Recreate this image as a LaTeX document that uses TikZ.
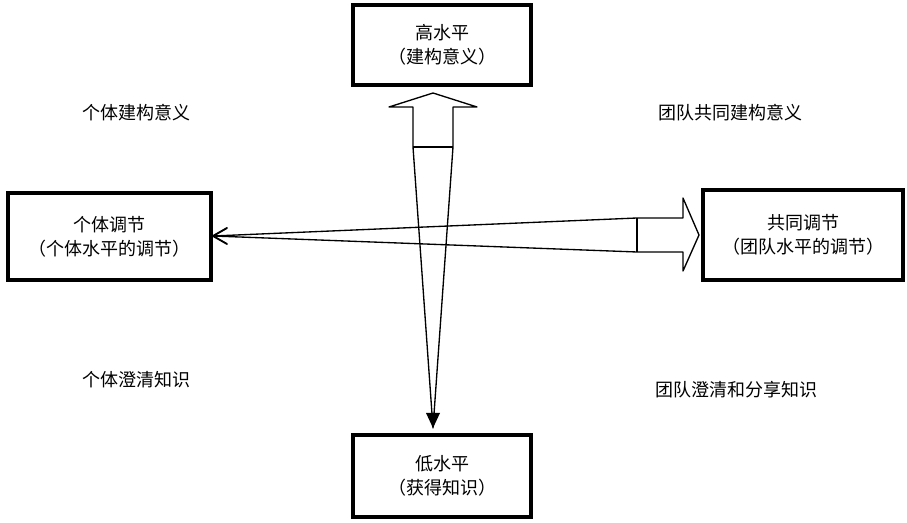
\documentclass[tikz,border=0pt]{standalone}
\usepackage{fontspec}
\setmainfont{Noto Sans CJK SC}
\begin{document}
\begin{tikzpicture}[x=0.75pt,y=-0.75pt,
  box/.style={draw=black,line width=2.3pt,fill=white,align=center,font=\fontsize{13.5}{18}\selectfont,inner sep=0pt},
  lbl/.style={font=\fontsize{13.5}{18}\selectfont,inner sep=0pt},
  arr/.style={draw=black,line width=1pt,line join=round}]
\useasboundingbox (0,0) rectangle (907,523);
\node[box,minimum width=133.5pt,minimum height=60pt] (top) at (442,45) {高水平\\（建构意义）};
\node[box,minimum width=133.5pt,minimum height=61.5pt] (bot) at (442,476) {低水平\\（获得知识）};
\node[box,minimum width=152.25pt,minimum height=65.25pt] (lft) at (109.5,236.5) {个体调节\\（个体水平的调节）};
\node[box,minimum width=150pt,minimum height=67.5pt] (rgt) at (803,235) {共同调节\\（团队水平的调节）};
\node[lbl] (l1) at (136.5,113) {个体建构意义};
\node[lbl] (l2) at (730,113) {团队共同建构意义};
\node[lbl] (l3) at (136.5,380) {个体澄清知识};
\node[lbl] (l4) at (736.5,390) {团队澄清和分享知识};
% vertical tapered arrow
\coordinate (vtip) at (433,93);
\coordinate (vend) at (433,428);
\draw[arr] (vend) -- (453,147) -- (453,107) -- (477,107) -- (vtip) -- (389,107) -- (413,107) -- (413,147) -- cycle;
\draw[arr] (413,147) -- (453,147);
\fill[black] (426,413) -- (440,413) -- (vend) -- cycle;
% horizontal tapered arrow
\coordinate (htip) at (699,235);
\coordinate (hend) at (213,236);
\draw[arr] (hend) -- (637,218) -- (683,218) -- (683,198) -- (htip) -- (683,271) -- (683,252) -- (637,252) -- cycle;
\draw[arr] (637,218) -- (637,252);
\draw[line width=1.4pt,line join=miter,line cap=round] (227,228) -- (hend) -- (227,244);
\end{tikzpicture}
\end{document}
